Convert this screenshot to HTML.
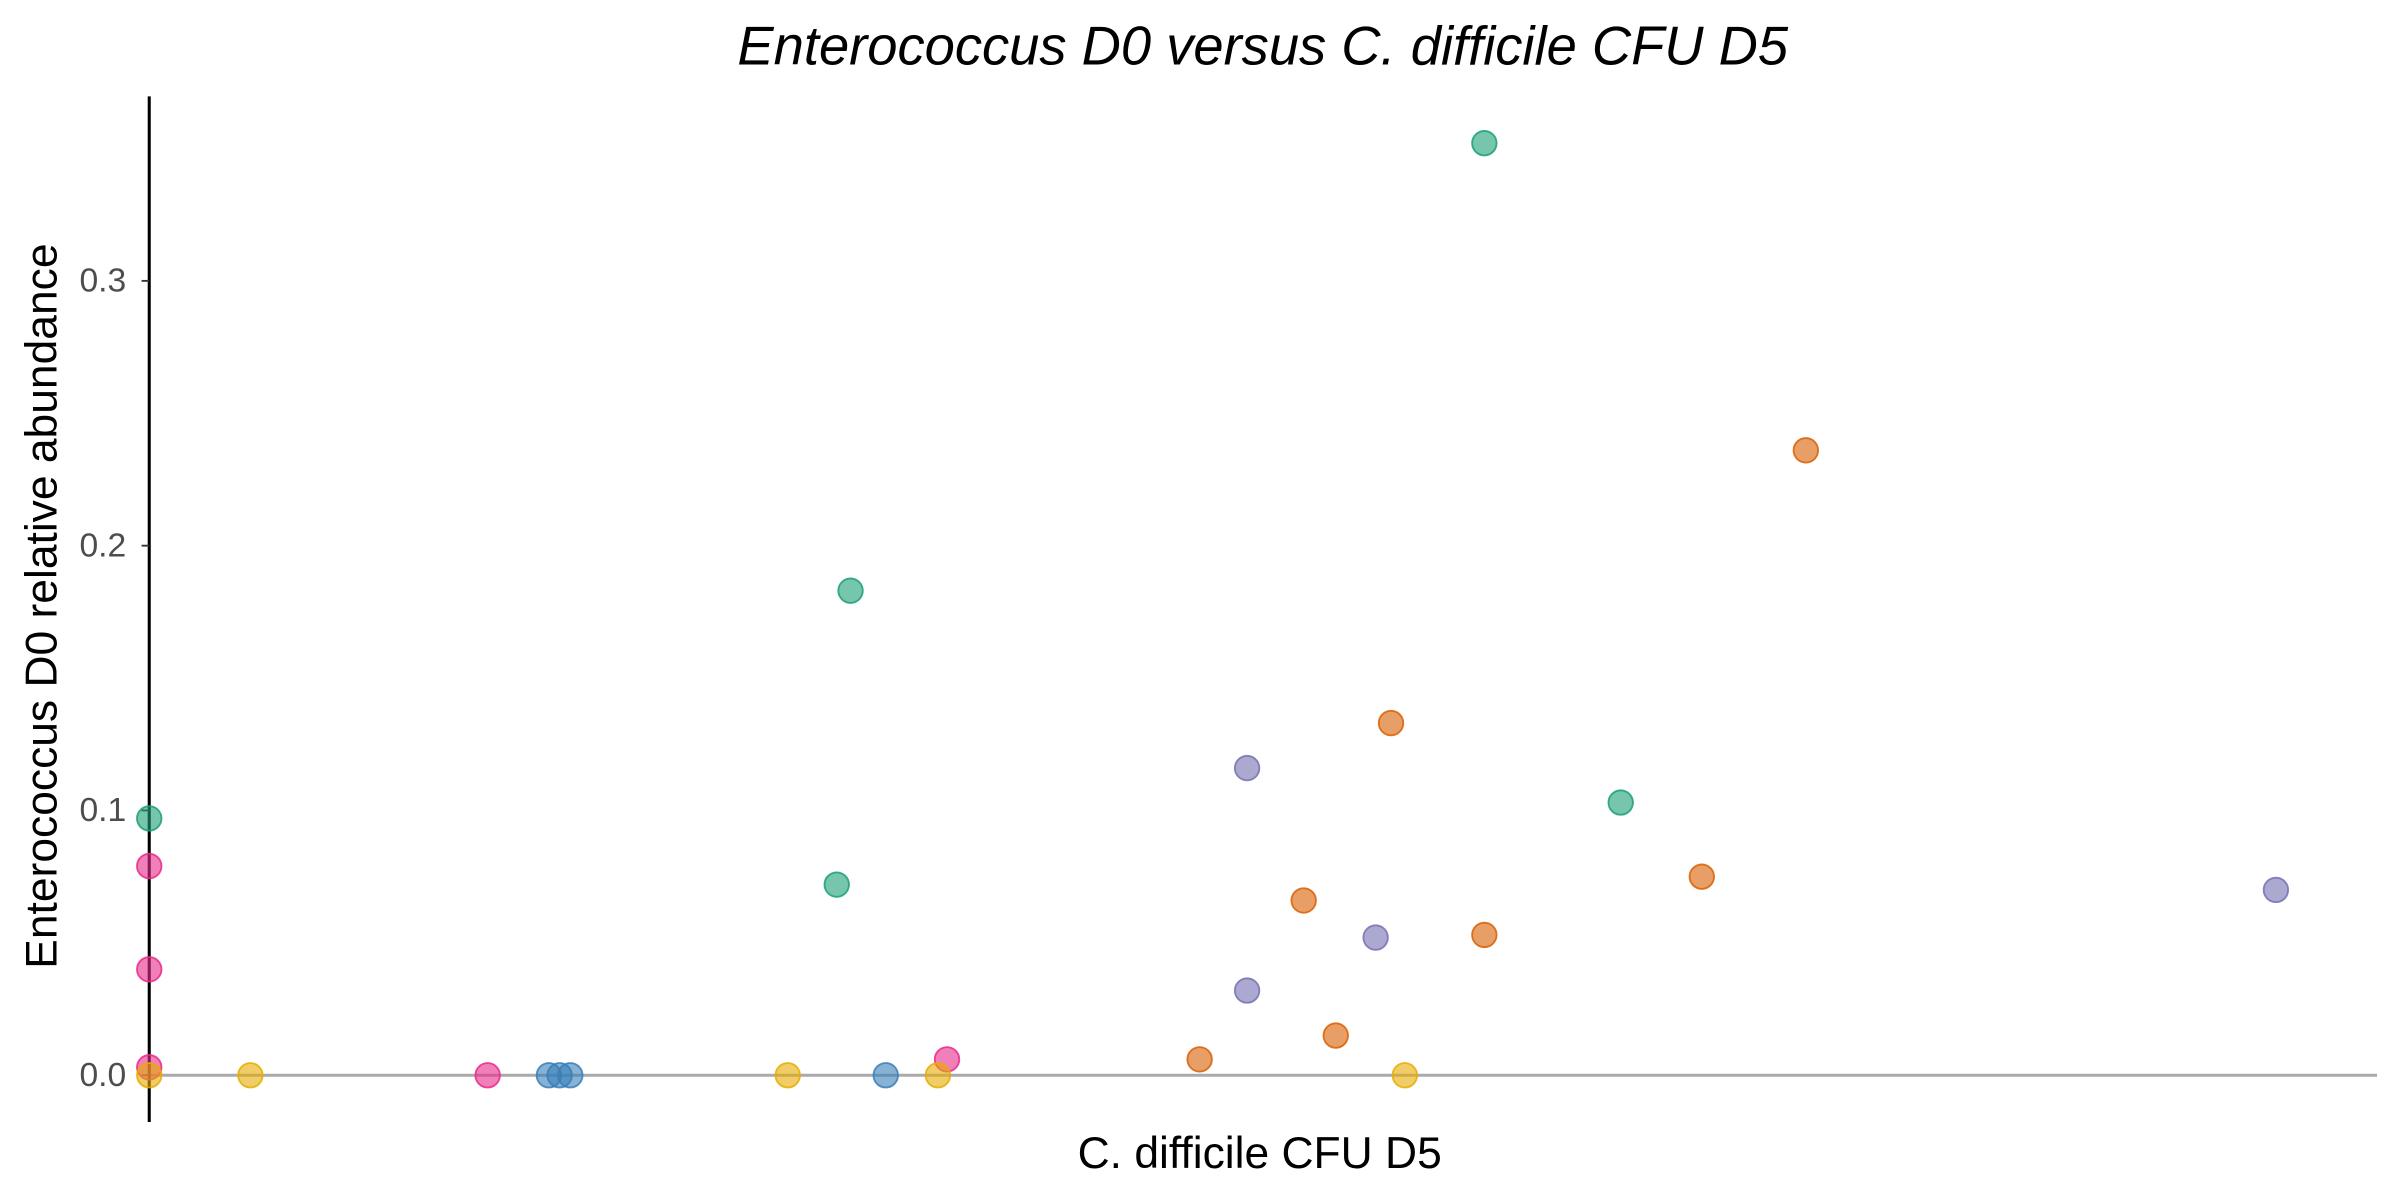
<!DOCTYPE html>
<html><head><meta charset="utf-8"><style>html,body{margin:0;padding:0;background:#fff;}svg{display:block;}</style></head>
<body>
<svg id="chart" width="2400" height="1200" viewBox="0 0 1568 784" xmlns="http://www.w3.org/2000/svg" font-family="Liberation Sans, sans-serif">
<rect width="1568" height="784" fill="#fff"/>
<text x="825" y="42" text-anchor="middle" font-size="35.5" font-style="italic" fill="#000">Enterococcus D0 versus C. difficile CFU D5</text>
<text x="823" y="763" text-anchor="middle" font-size="29" fill="#000">C. difficile CFU D5</text>
<text transform="translate(37,396) rotate(-90)" text-anchor="middle" font-size="29" fill="#000">Enterococcus D0 relative abundance</text>
<g id="axes"></g>
<g id="points"></g>
</svg>
<script>
const yTicks = [0, 0.1, 0.2, 0.3];
const yTickLabels = ["0.0", "0.1", "0.2", "0.3"];
const groups = ["teal","orange","purple","pink","blue","yellow"];
const groupColors = ["#1B9E77","#D95F02","#7570B3","#E7298A","#377EB8","#E6AB02"];
const xTeal = [0, 30.86, 31.48, 59.93, 66.05];
const yTeal = [0.097, 0.072, 0.183, 0.352, 0.103];
const xOrange = [47.15, 51.82, 53.26, 55.74, 59.93, 69.69, 74.36];
const yOrange = [0.006, 0.066, 0.015, 0.133, 0.053, 0.075, 0.236];
const xPurple = [49.28, 49.28, 55.05, 95.46];
const yPurple = [0.116, 0.032, 0.052, 0.070];
const xPink = [0, 0, 0, 15.19, 35.81];
const yPink = [0.079, 0.040, 0.003, 0, 0.006];
const xBlue = [17.94, 18.42, 18.90, 33.06];
const yBlue = [0, 0, 0, 0];
const xYellow = [0, 4.54, 28.66, 35.40, 56.36];
const yYellow = [0, 0, 0, 0, 0];

const NS = "http://www.w3.org/2000/svg";
const X0 = 97.5, X1 = 1553;
function xs(v){ return X0 + v/100*(X1-X0); }
function ys(v){ return 702.5 - v*1730; }

const axes = document.getElementById('axes');
function mk(tag, attrs, parent){ const e=document.createElementNS(NS,tag); for(const k in attrs) e.setAttribute(k,attrs[k]); parent.appendChild(e); return e; }

const zl = mk('line',{x1:X0,x2:X1,y1:ys(0),y2:ys(0),stroke:'#aaaaaa','stroke-width':2},axes);


const ya = mk('line',{x1:X0,x2:X0,y1:63,y2:733,stroke:'#000','stroke-width':2},axes);


yTicks.forEach((t,i)=>{
  const tk = mk('line',{x1:X0-5,x2:X0,y1:ys(t),y2:ys(t),stroke:'#333','stroke-width':1.2},axes);
  
  
  const tl = mk('text',{x:X0-15,y:ys(t)+7,'text-anchor':'end','font-size':22,fill:'#4d4d4d'},axes);
  tl.textContent = yTickLabels[i];
  
  
});

const pts = document.getElementById('points');
const seriesX = [xTeal,xOrange,xPurple,xPink,xBlue,xYellow];
const seriesY = [yTeal,yOrange,yPurple,yPink,yBlue,yYellow];
seriesX.forEach((xsArr,g)=>{
  xsArr.forEach((xv,i)=>{
    const c = mk('circle',{cx:xs(xv),cy:ys(seriesY[g][i]),r:8,fill:groupColors[g],'fill-opacity':0.6,stroke:groupColors[g],'stroke-opacity':0.85,'stroke-width':1.2},pts);
    
    
  });
});
</script>
</body></html>
